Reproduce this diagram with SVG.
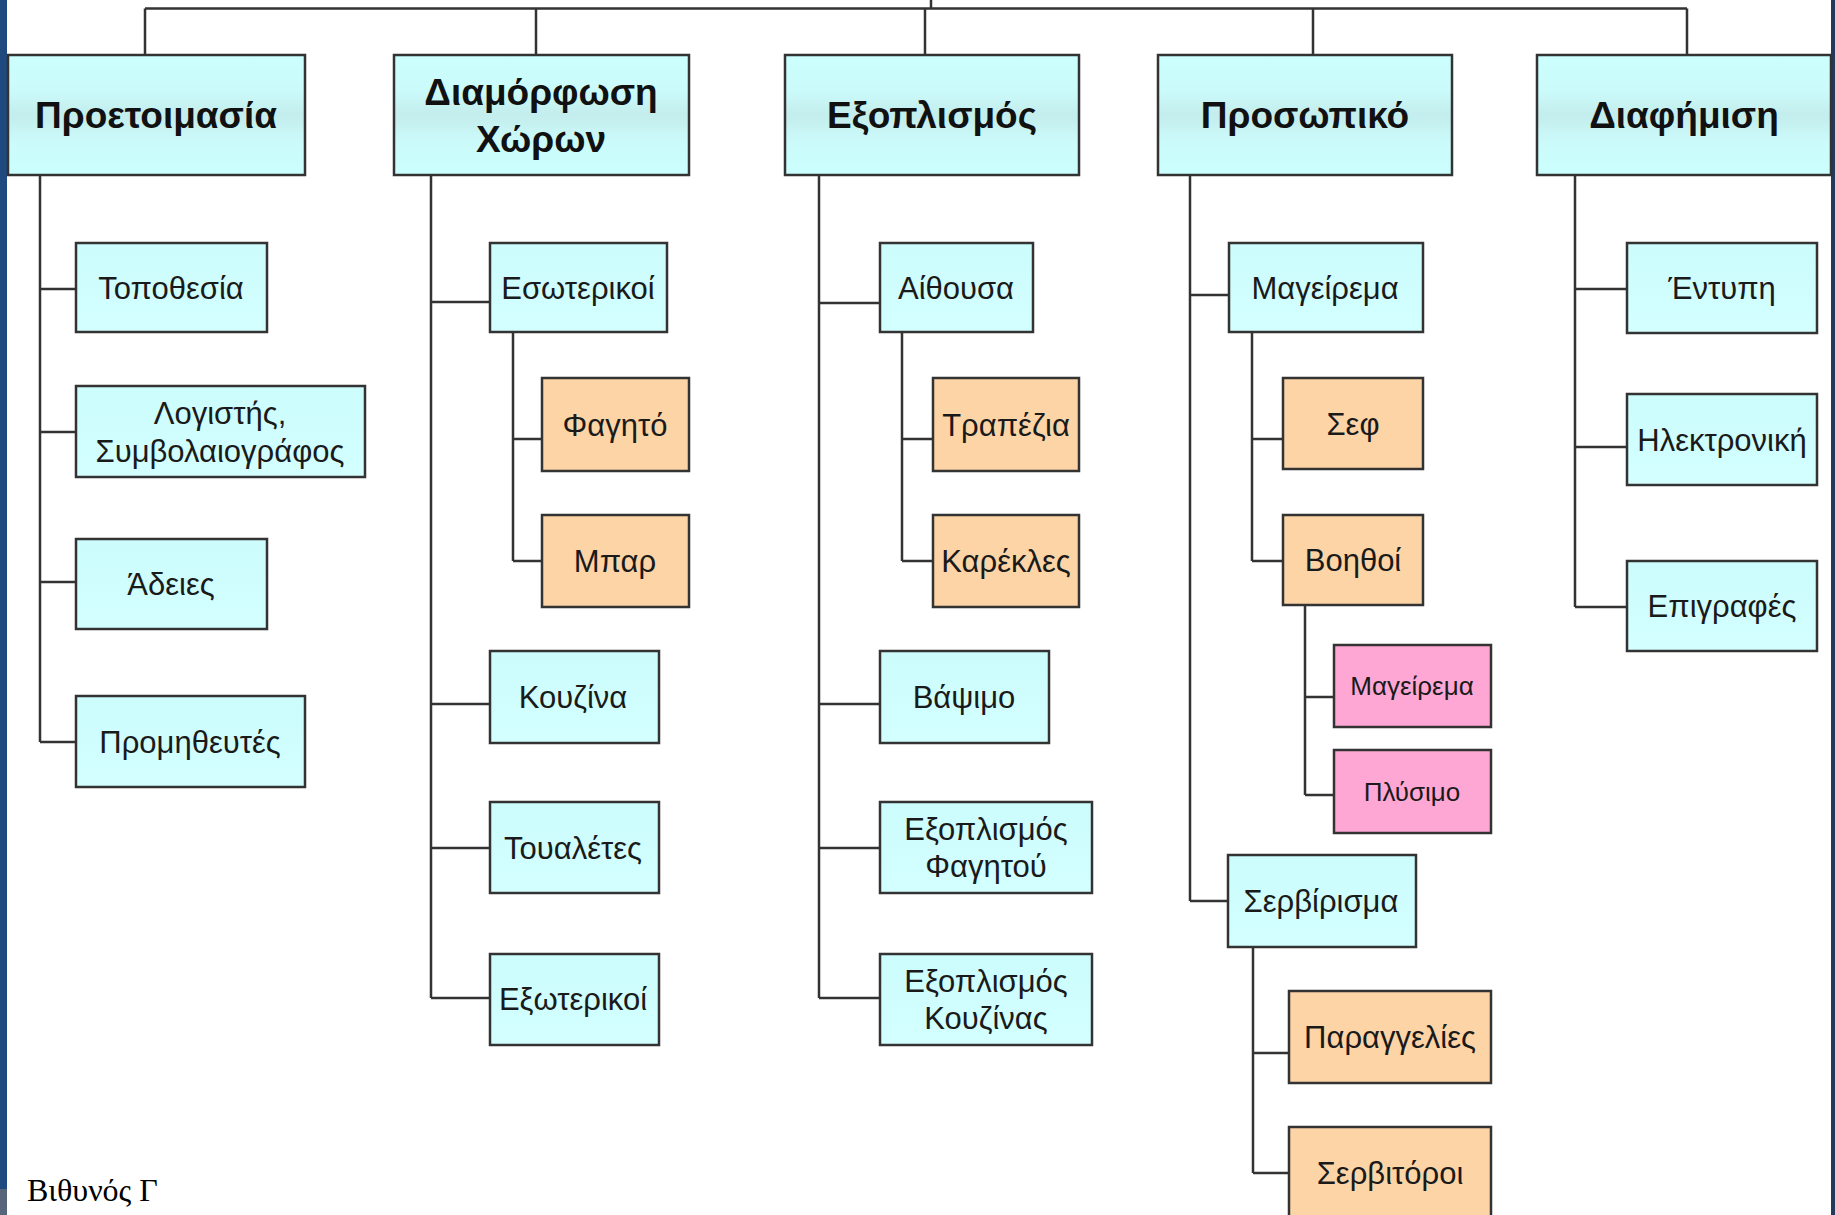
<svg xmlns="http://www.w3.org/2000/svg" width="1835" height="1215" viewBox="0 0 1835 1215">
<style>
  .box{stroke:#333;stroke-width:2.5}
  .top{fill:url(#gTop)}
  .cy{fill:url(#gCy)}
  .or{fill:#FDD4A6}
  .pk{fill:#FFA7D4}
  .conn{fill:none;stroke:#333;stroke-width:2.5}
  .h{font-family:"Liberation Sans",Arial,sans-serif;font-weight:bold;font-size:37px;fill:#111;text-anchor:middle}
  .t{font-family:"Liberation Sans",Arial,sans-serif;font-size:31px;fill:#1a1a1a;text-anchor:middle}
  .s{font-family:"Liberation Sans",Arial,sans-serif;font-size:26px;fill:#1a1a1a;text-anchor:middle}
  .f{font-family:"Liberation Serif","Times New Roman",serif;font-size:32px;fill:#000}
</style>
<defs>
  <linearGradient id="gTop" x1="0" y1="0" x2="0" y2="1">
    <stop offset="0" stop-color="#CCFFFF"/>
    <stop offset="0.3" stop-color="#CBFAFA"/>
    <stop offset="0.5" stop-color="#C4EDED"/>
    <stop offset="0.72" stop-color="#CBFAFA"/>
    <stop offset="1" stop-color="#CCFFFF"/>
  </linearGradient>
  <linearGradient id="gCy" x1="0" y1="0" x2="0" y2="1">
    <stop offset="0" stop-color="#CCFCFC"/>
    <stop offset="1" stop-color="#D3FFFF"/>
  </linearGradient>
</defs>
<rect x="0" y="0" width="1835" height="1215" fill="#fff"/>
<rect x="0" y="0" width="7" height="1189" fill="#1F4A7F"/>
<rect x="0" y="1189" width="7" height="26" fill="#56657A"/>
<rect x="1831" y="0" width="4" height="1215" fill="#25395A"/>

<g id="connectors">
  <path class="conn" d="M931,0 V8.5 M145,8.5 H1687 M145,8.5 V55 M536,8.5 V55 M925,8.5 V55 M1313,8.5 V55 M1687,8.5 V55"/>
  <path class="conn" d="M40,175 V742 M40,289 H76 M40,432 H76 M40,582 H76 M40,742 H76"/>
  <path class="conn" d="M431,175 V998 M431,302 H490 M431,704 H490 M431,848 H490 M431,998 H490"/>
  <path class="conn" d="M513,332 V561 M513,439 H542 M513,561 H542"/>
  <path class="conn" d="M819,175 V998 M819,303 H880 M819,704 H880 M819,848 H880 M819,998 H880"/>
  <path class="conn" d="M902,332 V561 M902,439 H933 M902,561 H933"/>
  <path class="conn" d="M1190,175 V901 M1190,295 H1229 M1190,901 H1228"/>
  <path class="conn" d="M1252,332 V561 M1252,439 H1283 M1252,561 H1283"/>
  <path class="conn" d="M1305,605 V795 M1305,697 H1334 M1305,795 H1334"/>
  <path class="conn" d="M1253,947 V1173 M1253,1053 H1289 M1253,1173 H1289"/>
  <path class="conn" d="M1575,175 V607 M1575,289 H1627 M1575,447 H1627 M1575,607 H1627"/>
</g>

<g id="n-proetoimasia"><rect class="box top" x="8" y="55" width="297" height="120"/><text class="h" x="156" y="128">Προετοιμασία</text></g>
<g id="n-diamorfosi"><rect class="box top" x="394" y="55" width="295" height="120"/><text class="h" x="541" y="105">Διαμόρφωση</text><text class="h" x="541" y="152">Χώρων</text></g>
<g id="n-exoplismos"><rect class="box top" x="785" y="55" width="294" height="120"/><text class="h" x="932" y="128">Εξοπλισμός</text></g>
<g id="n-prosopiko"><rect class="box top" x="1158" y="55" width="294" height="120"/><text class="h" x="1305" y="128">Προσωπικό</text></g>
<g id="n-diafimisi"><rect class="box top" x="1537" y="55" width="294" height="120"/><text class="h" x="1684" y="128">Διαφήμιση</text></g>

<g id="n-topothesia"><rect class="box cy" x="76" y="243" width="191" height="89"/><text class="t" x="171" y="299">Τοποθεσία</text></g>
<g id="n-logistis"><rect class="box cy" x="76" y="386" width="289" height="91"/><text class="t" x="220" y="424">Λογιστής,</text><text class="t" x="220" y="462">Συμβολαιογράφος</text></g>
<g id="n-adeies"><rect class="box cy" x="76" y="539" width="191" height="90"/><text class="t" x="171" y="595">Άδειες</text></g>
<g id="n-promitheutes"><rect class="box cy" x="76" y="696" width="229" height="91"/><text class="t" x="190" y="753">Προμηθευτές</text></g>

<g id="n-esoterikoi"><rect class="box cy" x="490" y="243" width="177" height="89"/><text class="t" x="578" y="299">Εσωτερικοί</text></g>
<g id="n-fagito"><rect class="box or" x="542" y="378" width="147" height="93"/><text class="t" x="615" y="436">Φαγητό</text></g>
<g id="n-bar"><rect class="box or" x="542" y="515" width="147" height="92"/><text class="t" x="615" y="572">Μπαρ</text></g>
<g id="n-kouzina"><rect class="box cy" x="490" y="651" width="169" height="92"/><text class="t" x="573" y="708">Κουζίνα</text></g>
<g id="n-toualetes"><rect class="box cy" x="490" y="802" width="169" height="91"/><text class="t" x="573" y="859">Τουαλέτες</text></g>
<g id="n-exoterikoi"><rect class="box cy" x="490" y="954" width="169" height="91"/><text class="t" x="573" y="1010">Εξωτερικοί</text></g>

<g id="n-aithousa"><rect class="box cy" x="880" y="243" width="153" height="89"/><text class="t" x="956" y="299">Αίθουσα</text></g>
<g id="n-trapezia"><rect class="box or" x="933" y="378" width="146" height="93"/><text class="t" x="1006" y="436">Τραπέζια</text></g>
<g id="n-karekles"><rect class="box or" x="933" y="515" width="146" height="92"/><text class="t" x="1006" y="572">Καρέκλες</text></g>
<g id="n-vapsimo"><rect class="box cy" x="880" y="651" width="169" height="92"/><text class="t" x="964" y="708">Βάψιμο</text></g>
<g id="n-exop-fagitou"><rect class="box cy" x="880" y="802" width="212" height="91"/><text class="t" x="986" y="840">Εξοπλισμός</text><text class="t" x="986" y="877">Φαγητού</text></g>
<g id="n-exop-kouzinas"><rect class="box cy" x="880" y="954" width="212" height="91"/><text class="t" x="986" y="992">Εξοπλισμός</text><text class="t" x="986" y="1029">Κουζίνας</text></g>

<g id="n-mageirema"><rect class="box cy" x="1229" y="243" width="194" height="89"/><text class="t" x="1325" y="299">Μαγείρεμα</text></g>
<g id="n-sef"><rect class="box or" x="1283" y="378" width="140" height="91"/><text class="t" x="1353" y="435">Σεφ</text></g>
<g id="n-voithoi"><rect class="box or" x="1283" y="515" width="140" height="90"/><text class="t" x="1353" y="571">Βοηθοί</text></g>
<g id="n-mageirema2"><rect class="box pk" x="1334" y="645" width="157" height="82"/><text class="s" x="1412" y="695">Μαγείρεμα</text></g>
<g id="n-plysimo"><rect class="box pk" x="1334" y="750" width="157" height="83"/><text class="s" x="1412" y="801">Πλύσιμο</text></g>
<g id="n-servirisma"><rect class="box cy" x="1228" y="855" width="188" height="92"/><text class="t" x="1321" y="912">Σερβίρισμα</text></g>
<g id="n-paraggelies"><rect class="box or" x="1289" y="991" width="202" height="92"/><text class="t" x="1390" y="1048">Παραγγελίες</text></g>
<g id="n-servitoroi"><rect class="box or" x="1289" y="1127" width="202" height="100"/><text class="t" x="1390" y="1184">Σερβιτόροι</text></g>

<g id="n-entypi"><rect class="box cy" x="1627" y="243" width="190" height="90"/><text class="t" x="1722" y="299">Έντυπη</text></g>
<g id="n-ilektroniki"><rect class="box cy" x="1627" y="394" width="190" height="91"/><text class="t" x="1722" y="451">Ηλεκτρονική</text></g>
<g id="n-epigrafes"><rect class="box cy" x="1627" y="561" width="190" height="90"/><text class="t" x="1722" y="617">Επιγραφές</text></g>

<text class="f" x="27" y="1201">Βιθυνός Γ</text>
</svg>
